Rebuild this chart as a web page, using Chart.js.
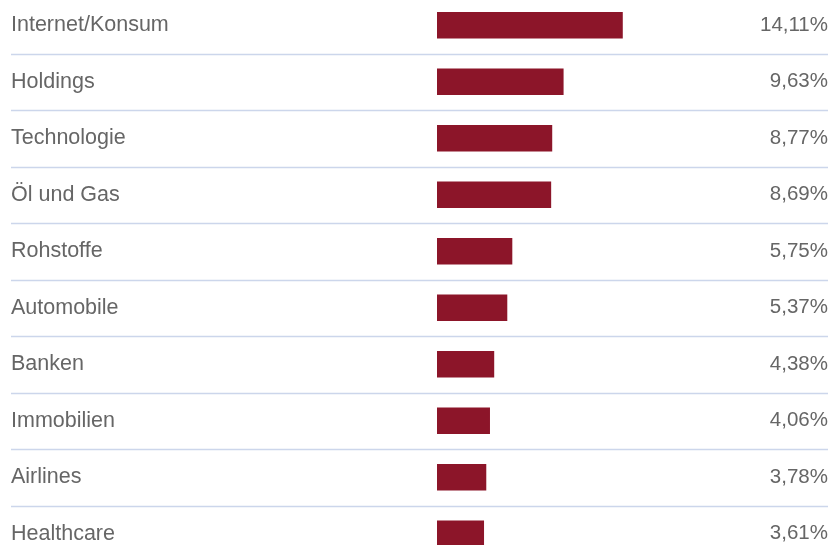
<!DOCTYPE html>
<html>
<head>
<meta charset="utf-8">
<script src="https://cdn.jsdelivr.net/npm/chart.js@4/dist/chart.umd.min.js"></script>
<style>
  html, body { margin: 0; padding: 0; background: #fff; overflow: hidden; }
  #wrap { position: absolute; left: 0; top: -3px; width: 831px; height: 565px; }
</style>
</head>
<body>
<div id="wrap"><canvas id="branchen"></canvas></div>
<script>
// Branchen und Gewichtung in %
const branchen = ['Internet/Konsum', 'Holdings', 'Technologie', 'Öl und Gas', 'Rohstoffe',
  'Automobile', 'Banken', 'Immobilien', 'Airlines', 'Healthcare'];
const anteile = [14.11, 9.63, 8.77, 8.69, 5.75, 5.37, 4.38, 4.06, 3.78, 3.61];

const textFarbe = '#666666';
const linienFarbe = '#ccd6eb';

// Beschriftungen links, Werte rechts und Trennlinien zwischen den Zeilen
const zeilenPlugin = {
  id: 'zeilen',
  afterDraw(chart) {
    const ctx = chart.ctx;
    const y = chart.scales.y;
    ctx.save();
    ctx.fillStyle = textFarbe;
    ctx.textBaseline = 'middle';
    branchen.forEach((name, i) => {
      const py = y.getPixelForValue(i);
      ctx.font = '21.5px "Liberation Sans", Arial, sans-serif';
      ctx.textAlign = 'left';
      ctx.fillText(name, 11, py);
      ctx.font = '20.5px "Liberation Sans", Arial, sans-serif';
      ctx.textAlign = 'right';
      ctx.fillText(anteile[i].toFixed(2).replace('.', ',') + '%', 828, py);
    });
    ctx.strokeStyle = linienFarbe;
    ctx.lineWidth = 1.5;
    for (let i = 0; i < branchen.length; i++) {
      const ly = Math.round((y.getPixelForValue(i) + y.getPixelForValue(i + 1)) / 2);
      ctx.beginPath();
      ctx.moveTo(11, ly + 0.5);
      ctx.lineTo(828, ly + 0.5);
      ctx.stroke();
    }
    ctx.restore();
  }
};

new Chart(document.getElementById('branchen'), {
  type: 'bar',
  data: {
    labels: branchen,
    datasets: [{
      data: anteile,
      backgroundColor: '#8c1529',
      borderColor: 'rgba(255,255,255,0.35)',
      borderWidth: 1,
      barThickness: 28
    }]
  },
  options: {
    indexAxis: 'y',
    responsive: true,
    maintainAspectRatio: false,
    animation: false,
    layout: { padding: { left: 437, right: 24, top: 0, bottom: 0 } },
    plugins: { legend: { display: false }, tooltip: { enabled: false } },
    scales: {
      x: { display: false, min: 0, max: 28 },
      y: { display: false }
    }
  },
  plugins: [zeilenPlugin]
});
</script>
</body>
</html>
